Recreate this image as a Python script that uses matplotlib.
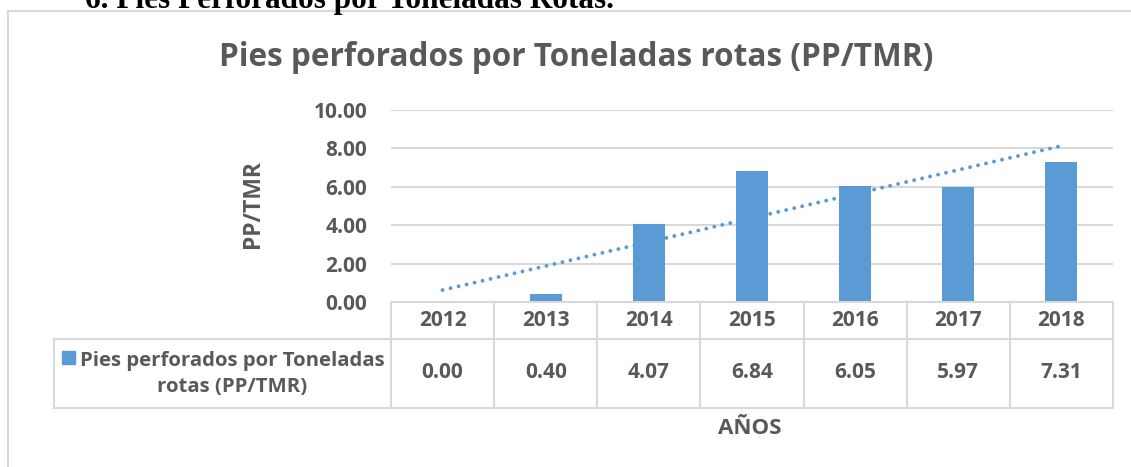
import numpy as np
import matplotlib
matplotlib.use("Agg")
import matplotlib.pyplot as plt
from matplotlib.lines import Line2D
from matplotlib.patches import Rectangle

# ========================
# Data
# ========================
years = ["2012", "2013", "2014", "2015", "2016", "2017", "2018"]
pp_tmr = [0.00, 0.40, 4.07, 6.84, 6.05, 5.97, 7.31]
series_name = "Pies perforados por Toneladas\nrotas (PP/TMR)"
title = "Pies perforados por Toneladas rotas (PP/TMR)"
header = "6. Pies Perforados por Toneladas Rotas."

BLUE = "#5B9BD5"
TEXT = "#595959"
GRID = "#D9D9D9"
FONT = "Open Sans"

W, H = 1131, 467
fig = plt.figure(figsize=(W / 100, H / 100), dpi=100)
fig.patch.set_facecolor("white")


def fx(px):
    return px / W


def fy(py):
    return 1 - py / H


# document header (cut at the top) and chart border
fig.text(fx(85), fy(8), header, family="Liberation Serif", weight="bold",
         fontsize=22.5, color="black", va="baseline", ha="left")
fig.add_artist(Line2D([fx(8), fx(8)], [fy(11), 0], color=GRID, lw=1.5))
fig.add_artist(Line2D([fx(8), 1], [fy(11), fy(11)], color=GRID, lw=1.5))

fig.text(fx(576), fy(57), title, family=FONT, weight="bold", fontsize=22.7,
         color=TEXT, ha="center", va="center")

# ========================
# Plot area
# ========================
left, right, top, bottom = 391, 1113, 110, 302
ax = fig.add_axes([fx(left), fy(bottom), fx(right - left), (bottom - top) / H])

x = np.arange(len(years))
ax.bar(x, pp_tmr, width=0.31, color=BLUE, zorder=3)

# linear trendline
coef = np.polyfit(x + 1, pp_tmr, 1)
trend = np.polyval(coef, x + 1)
ax.plot(x, trend, color=BLUE, lw=2.8, linestyle=(0, (0.01, 2.1)),
        dash_capstyle="round", zorder=4)

ax.set_xlim(-0.5, len(years) - 0.5)
ax.set_ylim(0, 10)
ax.set_yticks(np.arange(0, 11, 2))
ax.set_yticklabels([f"{v:.2f}" for v in np.arange(0, 11, 2)])
ax.yaxis.grid(True, color=GRID, lw=1.5, zorder=0)
ax.set_xticks([])
for s in ax.spines.values():
    s.set_visible(False)
ax.tick_params(axis="y", length=0, pad=17, labelsize=15, labelcolor=TEXT)
for lab in ax.get_yticklabels():
    lab.set_fontfamily(FONT)
    lab.set_fontweight("bold")

ph = bottom - top
ax.text((253 - left) / (right - left), (bottom - 204) / ph, "PP/TMR",
        transform=ax.transAxes, rotation=90, ha="center", va="center",
        family=FONT, weight="bold", fontsize=16.5, color=TEXT)

# ========================
# Data table below the axis
# ========================
y_head = -(339 - bottom) / ph
y_end = -(408 - bottom) / ph
x_leg = (54 - left) / (right - left)
tr = ax.get_xaxis_transform()
line_kw = dict(color=GRID, lw=1.5, clip_on=False, zorder=5)

ax.add_line(Line2D([0, 1], [0, 0], transform=ax.transAxes, **line_kw))
ax.add_line(Line2D([x_leg, 1], [y_head, y_head], transform=ax.transAxes, **line_kw))
ax.add_line(Line2D([x_leg, 1], [y_end, y_end], transform=ax.transAxes, **line_kw))
ax.add_line(Line2D([x_leg, x_leg], [y_head, y_end], transform=ax.transAxes, **line_kw))
for b in np.arange(len(years) + 1) - 0.5:
    ax.add_line(Line2D([b, b], [0, y_end], transform=tr, **line_kw))

cell_kw = dict(transform=tr, ha="center", va="center", family=FONT,
               weight="bold", fontsize=15, color=TEXT, clip_on=False)
y_year = -(321 - bottom) / ph
y_val = -(373 - bottom) / ph
for xi, yr, v in zip(x, years, pp_tmr):
    ax.text(xi, y_year, yr, **cell_kw)
    ax.text(xi, y_val, f"{v:.2f}", **cell_kw)

# legend key in the table
fig.add_artist(Rectangle((fx(62), fy(364)), fx(13), 13 / H, color=BLUE))
fig.text(fx(232), fy(374), series_name, ha="center", va="center",
         family=FONT, weight="bold", fontsize=14.7, color=TEXT,
         linespacing=1.45)

fig.text(fx(750), fy(428), "AÑOS", ha="center", va="center", family=FONT,
         weight="bold", fontsize=16, color=TEXT)

fig.savefig("out.png", dpi=100)
